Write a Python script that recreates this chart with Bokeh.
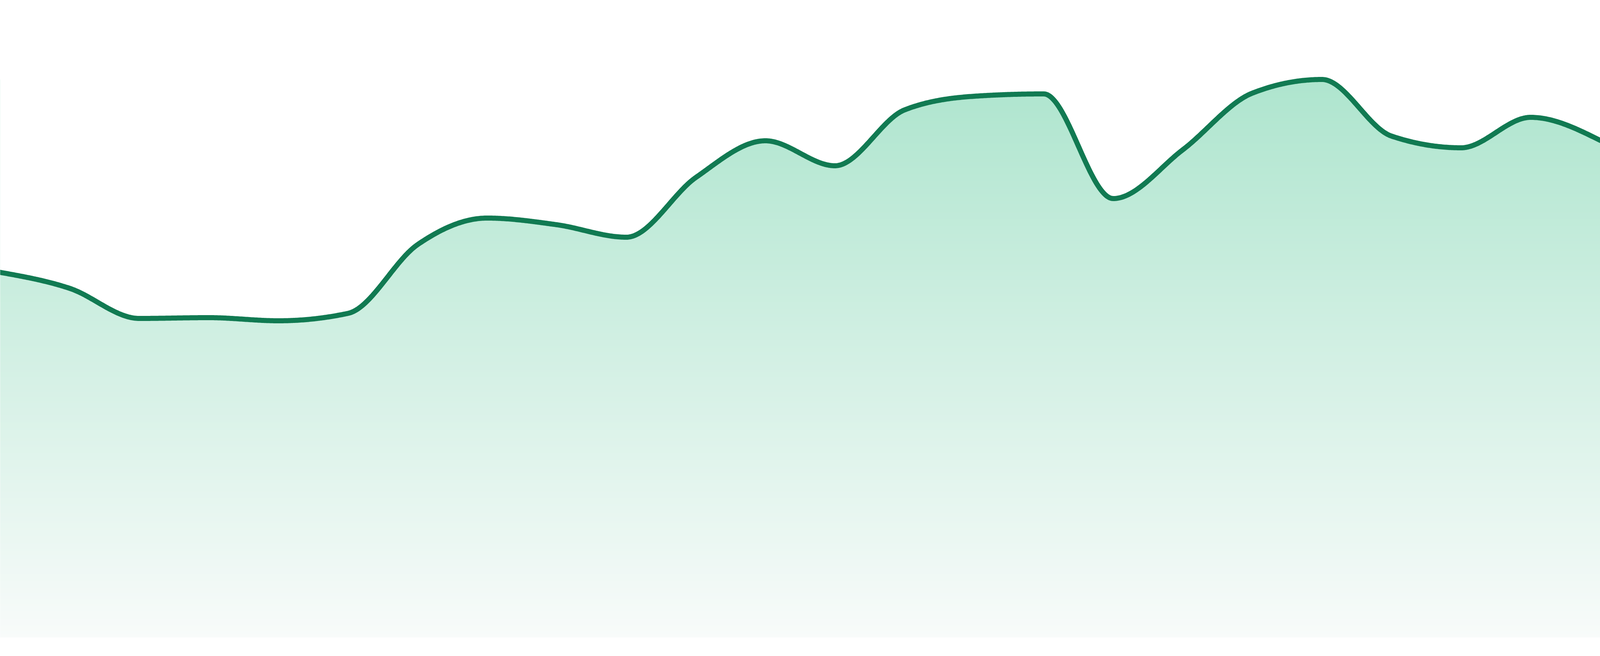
import numpy as np
from bokeh.plotting import figure
from bokeh.models import Range1d
from bokeh.embed import file_html
from bokeh.resources import INLINE

# ---- data ----
index = list(range(24))
values = [93.5, 89.4, 81.7, 81.9, 81.1, 83.0, 100.6, 107.4, 105.7, 102.5,
          117.8, 127.2, 120.8, 135.1, 138.6, 139.2, 112.4, 124.9, 139.4,
          142.9, 128.4, 125.4, 133.2, 127.3]

LINE_COLOR = "#117a52"
TOP_RGB = (174, 229, 206)
BOTTOM_RGB = (248, 251, 250)


def monotone_x(xs, ys, per_seg=60):
    """d3 curveMonotoneX style interpolation."""
    xs = np.asarray(xs, float)
    ys = np.asarray(ys, float)
    n = len(xs)
    h = np.diff(xs)
    s = np.diff(ys) / h
    m = np.zeros(n)
    sign = lambda v: -1.0 if v < 0 else 1.0
    for i in range(1, n - 1):
        h0, h1 = h[i - 1], h[i]
        s0, s1 = s[i - 1], s[i]
        p = (s0 * h1 + s1 * h0) / (h0 + h1)
        m[i] = (sign(s0) + sign(s1)) * min(abs(s0), abs(s1), 0.5 * abs(p))
    m[0] = (3 * s[0] - m[1]) / 2
    m[-1] = (3 * s[-1] - m[-2]) / 2
    out_x, out_y = [], []
    for i in range(n - 1):
        t = np.linspace(0, 1, per_seg, endpoint=(i == n - 2))
        dx = h[i]
        h00 = 2 * t**3 - 3 * t**2 + 1
        h10 = t**3 - 2 * t**2 + t
        h01 = -2 * t**3 + 3 * t**2
        h11 = t**3 - t**2
        out_x.append(xs[i] + t * dx)
        out_y.append(h00 * ys[i] + h10 * dx * m[i] + h01 * ys[i + 1] + h11 * dx * m[i + 1])
    return np.concatenate(out_x), np.concatenate(out_y)


cx, cy = monotone_x(index, values)

p = figure(sizing_mode="stretch_both", output_backend="svg", toolbar_location=None,
           x_range=Range1d(index[0], index[-1]), y_range=Range1d(-4.8, 163.2),
           min_border=0, background_fill_color="white", border_fill_color="white")
p.outline_line_color = None
p.axis.visible = False
p.grid.visible = False

# vertical gradient image for the area fill (slightly wider than the frame)
N = 600
vmax = max(values)
img = np.empty((N, 1), dtype=np.uint32)
view = img.view(dtype=np.uint8).reshape((N, 1, 4))
frac_from_top = 1 - (np.arange(N) + 0.5) / N
for c in range(3):
    view[:, 0, c] = np.round(TOP_RGB[c] + frac_from_top * (BOTTOM_RGB[c] - TOP_RGB[c])).astype(np.uint8)
view[:, 0, 3] = 255
p.image_rgba(image=[img], x=index[0] - 1, y=0, dw=index[-1] - index[0] + 2, dh=vmax)

# white mask above the curve, extended flat past both frame edges
mx = np.concatenate([[index[0] - 1], cx, [index[-1] + 1]])
my = np.concatenate([[values[0]], cy, [values[-1]]])
p.varea(x=mx, y1=my, y2=np.full_like(my, vmax + 30), fill_color="white")

p.line(mx, my, line_color=LINE_COLOR, line_width=13, line_join="round", line_cap="round")

open("out.html", "w").write(file_html(p, INLINE))
